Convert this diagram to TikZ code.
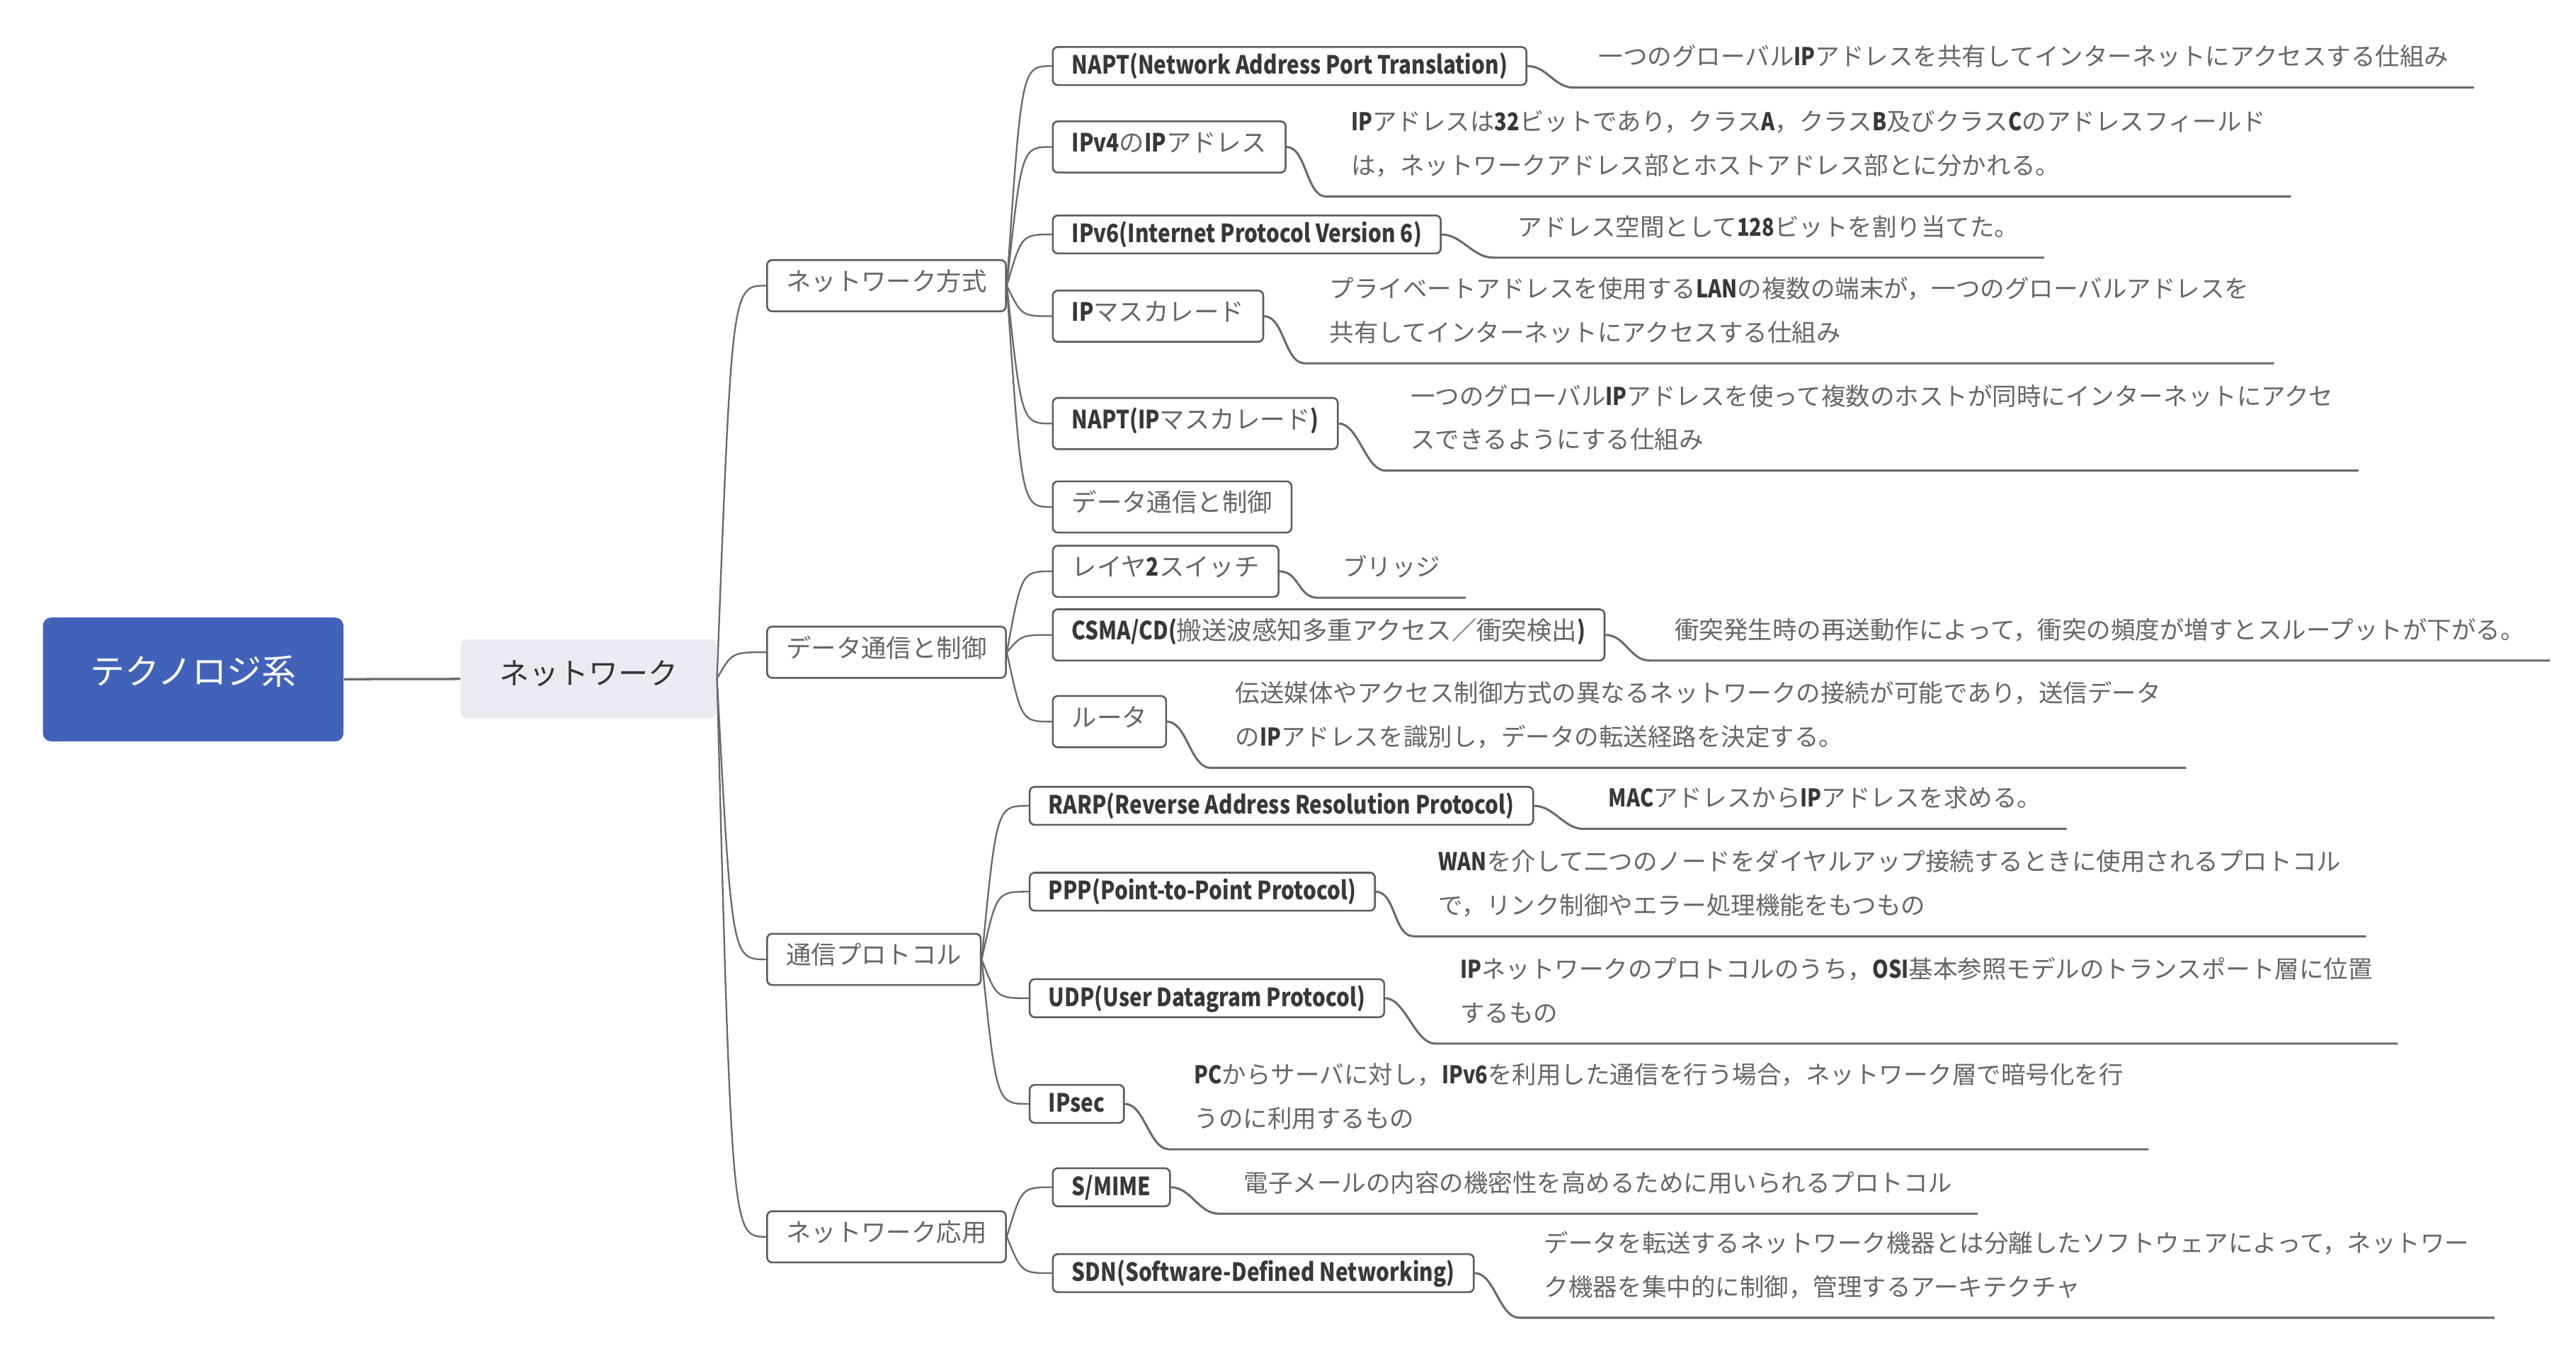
\documentclass[tikz,border=0pt]{standalone}
\usepackage{fontspec}
\setmainfont{Noto Sans CJK JP}
\newfontfamily\enfont{Noto Sans CJK JP}[FakeStretch=0.84]
\usetikzlibrary{calc}
\definecolor{rootblue}{HTML}{4262BA}
\definecolor{netgray}{HTML}{EAEBF2}
\definecolor{jptext}{HTML}{666666}
\definecolor{entext}{HTML}{383838}
\definecolor{boxline}{HTML}{5C5C5C}
\definecolor{linkgray}{HTML}{6A6A6A}
\newcommand{\en}[1]{{\enfont\color{entext}\bfseries #1}}
\tikzset{
	link/.style={draw=linkgray, line width=1pt},
	branch/.style={to path={let \p1=(\tikztostart), \p2=(\tikztotarget) in .. controls (\x1+9pt,\y2) .. (\tikztotarget)}}
}
\begin{document}
\begin{tikzpicture}[x=1pt, y=-1pt,
	rootbox/.style={fill=rootblue, text=white, rounded corners=5pt, minimum width=182pt, minimum height=75pt, text height=18.5pt, text depth=12.5pt, font=\fontsize{21}{25}\selectfont},
	netbox/.style={fill=netgray, text=black!80, rounded corners=4pt, minimum width=155pt, minimum height=48pt, text height=15.8pt, text depth=9.2pt, font=\fontsize{18}{22}\selectfont},
	box/.style={draw=boxline, line width=1.1pt, rounded corners=3pt, fill=white, text=jptext, inner xsep=11.5pt, inner ysep=3.5pt, anchor=west, font=\fontsize{15.2}{18}\selectfont},
	lbox/.style={box, text height=13pt, text depth=3pt},
	jbox/.style={box, text height=15pt, text depth=9pt},
	desc/.style={text=jptext, align=left, anchor=south west, inner xsep=15pt, inner ysep=10pt, text depth=3pt, font=\fontsize{14.8}{26.5}\selectfont}]
	\useasboundingbox (0,0) rectangle (1560,818);
	
	%root
	\node[rootbox] (root) at (117,411.5){テクノロジ系};
	\node[netbox] (net) at (356.5,411){ネットワーク};
	\draw[link, line width=1.4pt] (root) -- (net);
	
	%second level
	\node[jbox] (nw) at (464,173){ネットワーク方式};
	\node[jbox] (dc) at (464,395){データ通信と制御};
	\node[jbox] (proto) at (464,581){通信プロトコル};
	\node[jbox] (app) at (464,749){ネットワーク応用};
	
	%ネットワーク方式
	\node[lbox] (napt) at (637,40){\en{NAPT(Network Address Port Translation)}};
	\node[jbox] (ipv4) at (637,89){\en{IPv4}の\en{IP}アドレス};
	\node[lbox] (ipv6) at (637,142){\en{IPv6(Internet Protocol Version 6)}};
	\node[jbox] (ipmasq) at (637,191.5){\en{IP}マスカレード};
	\node[jbox] (napt2) at (637,256.5){\en{NAPT(IP}マスカレード\en{)}};
	\node[jbox] (dtc) at (637,307){データ通信と制御};
	
	%データ通信と制御
	\node[jbox] (l2sw) at (637,346){レイヤ\en{2}スイッチ};
	\node[jbox] (csma) at (637,384.5){\en{CSMA/CD(}搬送波感知多重アクセス／衝突検出\en{)}};
	\node[jbox] (router) at (637,437){ルータ};
	
	%通信プロトコル
	\node[lbox] (rarp) at (623,488){\en{RARP(Reverse Address Resolution Protocol)}};
	\node[lbox] (ppp) at (623,540){\en{PPP(Point-to-Point Protocol)}};
	\node[lbox] (udp) at (623,604.5){\en{UDP(User Datagram Protocol)}};
	\node[lbox] (ipsec) at (623,668.5){\en{IPsec}};
	
	%ネットワーク応用
	\node[lbox] (smime) at (637,719){\en{S/MIME}};
	\node[lbox] (sdn) at (637,771){\en{SDN(Software-Defined Networking)}};
	
	%descriptions
	\node[desc] (napt-d) at (953,53){一つのグローバル\en{IP}アドレスを共有してインターネットにアクセスする仕組み};
	\node[desc] (ipv4-d) at (803,119){\en{IP}アドレスは\en{32}ビットであり，クラス\en{A}，クラス\en{B}及びクラス\en{C}のアドレスフィールド\\は，ネットワークアドレス部とホストアドレス部とに分かれる。};
	\node[desc] (ipv6-d) at (904,156){アドレス空間として\en{128}ビットを割り当てた。};
	\node[desc] (ipmasq-d) at (790,220){プライベートアドレスを使用する\en{LAN}の複数の端末が，一つのグローバルアドレスを\\共有してインターネットにアクセスする仕組み};
	\node[desc] (napt2-d) at (839,285){一つのグローバル\en{IP}アドレスを使って複数のホストが同時にインターネットにアクセ\\スできるようにする仕組み};
	\node[desc] (l2sw-d) at (798,362){ブリッジ};
	\node[desc] (csma-d) at (999,400){衝突発生時の再送動作によって，衝突の頻度が増すとスループットが下がる。};
	\node[desc] (router-d) at (733,465){伝送媒体やアクセス制御方式の異なるネットワークの接続が可能であり，送信データ\\の\en{IP}アドレスを識別し，データの転送経路を決定する。};
	\node[desc] (rarp-d) at (959,502){\en{MAC}アドレスから\en{IP}アドレスを求める。};
	\node[desc] (ppp-d) at (856,567){\en{WAN}を介して二つのノードをダイヤルアップ接続するときに使用されるプロトコル\\で，リンク制御やエラー処理機能をもつもの};
	\node[desc] (udp-d) at (869,632){\en{IP}ネットワークのプロトコルのうち，\en{OSI}基本参照モデルのトランスポート層に位置\\するもの};
	\node[desc] (ipsec-d) at (708,696){\en{PC}からサーバに対し，\en{IPv6}を利用した通信を行う場合，ネットワーク層で暗号化を行\\うのに利用するもの};
	\node[desc] (smime-d) at (738,735){電子メールの内容の機密性を高めるために用いられるプロトコル};
	\node[desc] (sdn-d) at (920,798){データを転送するネットワーク機器とは分離したソフトウェアによって，ネットワー\\ク機器を集中的に制御，管理するアーキテクチャ};
	
	%branches
	\foreach \p/\c in {net/nw, net/dc, net/proto, net/app, nw/napt, nw/ipv4, nw/ipv6, nw/ipmasq, nw/napt2, nw/dtc, dc/l2sw, dc/csma, dc/router, proto/rarp, proto/ppp, proto/udp, proto/ipsec, app/smime, app/sdn}{
		\draw[link] (\p.east) to[branch] (\c.west);
	}
	
	%underlines
	\foreach \a in {napt, ipv4, ipv6, ipmasq, napt2, l2sw, csma, router, rarp, ppp, udp, ipsec, smime, sdn}{
		\draw[link, line width=1.3pt] (\a.east) .. controls +(12,0) and +(-12,0) .. (\a-d.south west) -- (\a-d.south east);
	}
\end{tikzpicture}
\end{document}
